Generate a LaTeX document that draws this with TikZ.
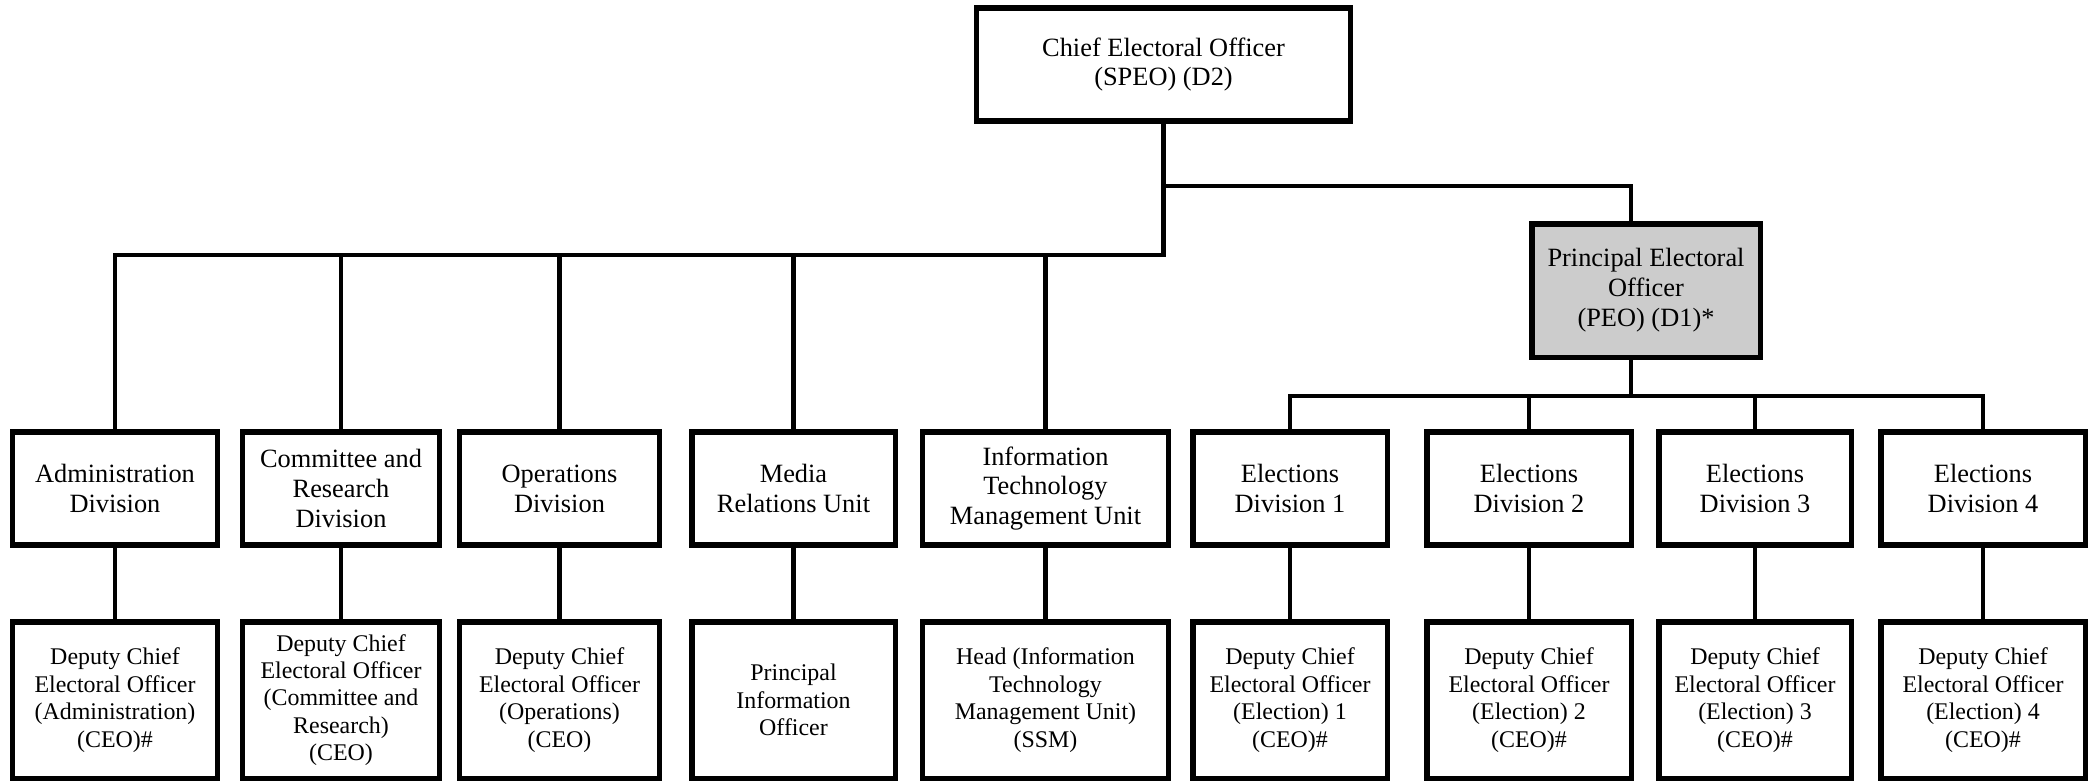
\documentclass[tikz,border=0pt]{standalone}
\usepackage{fontspec}
\setmainfont{Liberation Serif}
\usetikzlibrary{positioning,calc}
\tikzset{
  unit/.style={draw,line width=1.45pt,align=center,inner sep=2pt,
    font=\fontsize{7.5}{8.5}\selectfont},
  divbox/.style={unit,minimum height=1.13cm},
  headbox/.style={unit,minimum height=1.56cm,font=\fontsize{6.8}{7.8}\selectfont},
  peobox/.style={unit,fill=black!20,minimum width=2.28cm,minimum height=1.33cm},
  link/.style={line width=1.2pt}
}
\begin{document}
\begin{tikzpicture}[x=0.01cm,y=-0.01cm]
\useasboundingbox (0,0) rectangle (2094,781);
% top of the chart
\node[unit,minimum width=3.73cm,minimum height=1.13cm] (ceo) at (1163.5,64.5) {Chief Electoral Officer\\(SPEO) (D2)};
\node[peobox] (peo) at (1646,290.5) {Principal Electoral\\Officer\\(PEO) (D1)*};
% divisions and units
\node[divbox,minimum width=2.04cm] (adm) at (115,488.5) {Administration\\Division};
\node[divbox,minimum width=1.96cm] (com) at (341,488.5) {Committee and\\Research\\Division};
\node[divbox,minimum width=1.99cm] (ops) at (559.5,488.5) {Operations\\Division};
\node[divbox,minimum width=2.03cm] (med) at (793.5,488.5) {Media\\Relations Unit};
\node[divbox,minimum width=2.45cm] (itm) at (1045.5,488.5) {Information\\Technology\\Management Unit};
\node[divbox,minimum width=1.94cm] (el1) at (1290,488.5) {Elections\\Division 1};
\node[divbox,minimum width=2.04cm] (el2) at (1529,488.5) {Elections\\Division 2};
\node[divbox,minimum width=1.92cm] (el3) at (1755,488.5) {Elections\\Division 3};
\node[divbox,minimum width=2.04cm] (el4) at (1983,488.5) {Elections\\Division 4};
% heads
\node[headbox,minimum width=2.04cm] (admHead) at (115,700) {Deputy Chief\\Electoral Officer\\(Administration)\\(CEO)\#};
\node[headbox,minimum width=1.96cm] (comHead) at (341,700) {Deputy Chief\\Electoral Officer\\(Committee and\\Research)\\(CEO)};
\node[headbox,minimum width=1.99cm] (opsHead) at (559.5,700) {Deputy Chief\\Electoral Officer\\(Operations)\\(CEO)};
\node[headbox,minimum width=2.03cm] (medHead) at (793.5,700) {Principal\\Information\\Officer};
\node[headbox,minimum width=2.45cm] (itmHead) at (1045.5,700) {Head (Information\\Technology\\Management Unit)\\(SSM)};
\node[headbox,minimum width=1.94cm] (el1Head) at (1290,700) {Deputy Chief\\Electoral Officer\\(Election) 1\\(CEO)\#};
\node[headbox,minimum width=2.04cm] (el2Head) at (1529,700) {Deputy Chief\\Electoral Officer\\(Election) 2\\(CEO)\#};
\node[headbox,minimum width=1.92cm] (el3Head) at (1755,700) {Deputy Chief\\Electoral Officer\\(Election) 3\\(CEO)\#};
\node[headbox,minimum width=2.04cm] (el4Head) at (1983,700) {Deputy Chief\\Electoral Officer\\(Election) 4\\(CEO)\#};
% bus levels
\coordinate (busR) at (0,186);
\coordinate (busL) at (0,255);
\coordinate (busE) at (0,396);
% connectors
\draw[link] (ceo.south) -- (ceo.south |- busL) -| (adm.north);
\foreach \n in {com,ops,med,itm}
  \draw[link] (ceo.south |- busL) -| (\n.north);
\draw[link] (ceo.south |- busR) -| ([xshift=-0.15cm]peo.north);
\draw[link] ([xshift=-0.15cm]peo.south) -- ([xshift=-0.15cm]peo.south |- busE);
\foreach \n in {el1,el2,el3,el4}
  \draw[link] ([xshift=-0.15cm]peo.south |- busE) -| (\n.north);
\foreach \n in {adm,com,ops,med,itm,el1,el2,el3,el4}
  \draw[link] (\n.south) -- (\n Head.north);
\end{tikzpicture}
\end{document}
